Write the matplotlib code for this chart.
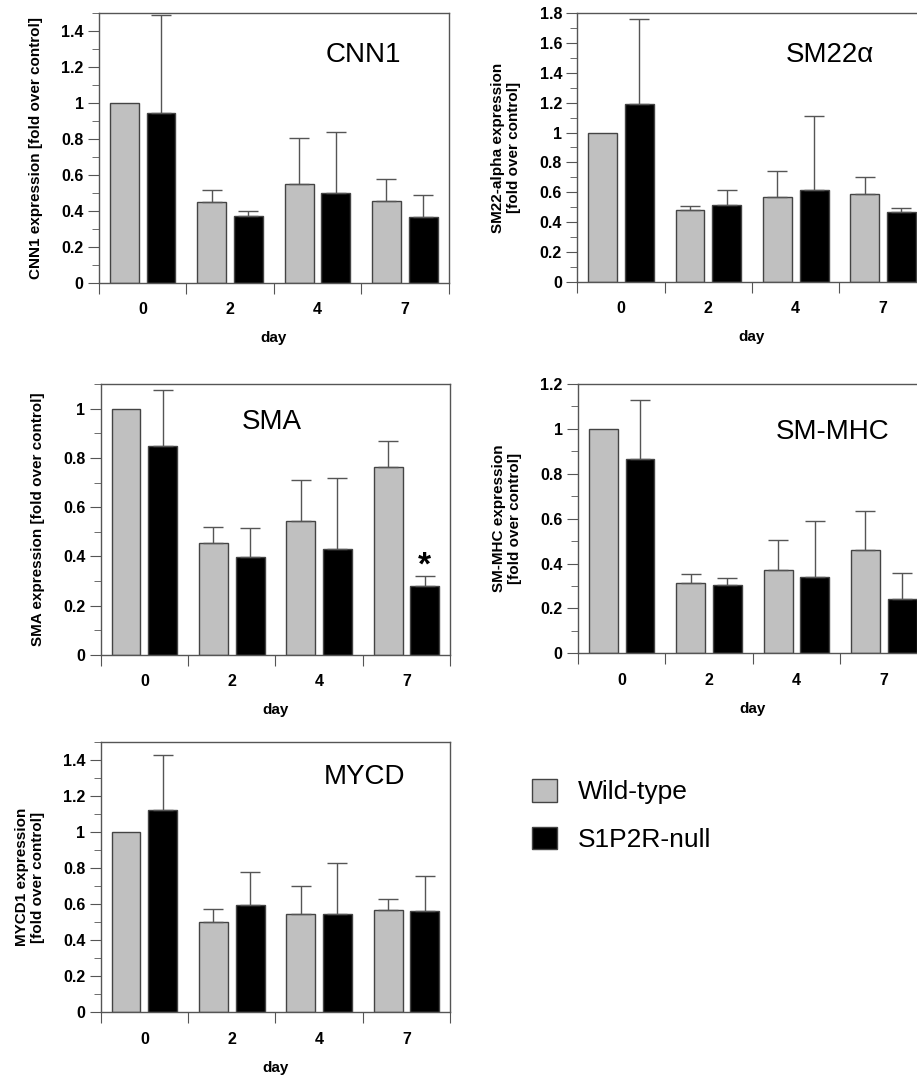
import matplotlib
matplotlib.use("Agg")
import matplotlib.pyplot as plt
import numpy as np

plt.rcParams['font.family'] = ['Liberation Sans', 'DejaVu Sans']

#data (upper error only)
days = ['0', '2', '4', '7']

cnn1_wt = [1.0, 0.45, 0.552, 0.455]
cnn1_wt_err = [0, 0.065, 0.255, 0.123]
cnn1_ko = [0.944, 0.374, 0.498, 0.368]
cnn1_ko_err = [0.543, 0.027, 0.34, 0.121]

sm22_wt = [1.0, 0.481, 0.566, 0.588]
sm22_wt_err = [0, 0.027, 0.176, 0.114]
sm22_ko = [1.19, 0.514, 0.617, 0.47]
sm22_ko_err = [0.572, 0.101, 0.494, 0.027]

sma_wt = [1.0, 0.455, 0.544, 0.762]
sma_wt_err = [0, 0.063, 0.168, 0.105]
sma_ko = [0.848, 0.396, 0.429, 0.279]
sma_ko_err = [0.229, 0.118, 0.288, 0.043]

smmhc_wt = [1.0, 0.313, 0.37, 0.46]
smmhc_wt_err = [0, 0.042, 0.136, 0.174]
smmhc_ko = [0.865, 0.304, 0.341, 0.24]
smmhc_ko_err = [0.263, 0.033, 0.249, 0.119]

mycd_wt = [1.0, 0.501, 0.545, 0.569]
mycd_wt_err = [0, 0.074, 0.157, 0.059]
mycd_ko = [1.124, 0.595, 0.547, 0.562]
mycd_ko_err = [0.303, 0.181, 0.283, 0.196]

W, H = 917, 1081
fig = plt.figure(figsize=(W / 100, H / 100), dpi=100)

edge = '#555555'
gray = '#c0c0c0'


def make_panel(left, top, bottom, ymax, wt, wt_err, ko, ko_err, title, title_xy, ylabel):
    width = 349.5
    ax = fig.add_axes([left / W, 1 - bottom / H, width / W, (bottom - top) / H])
    centers = np.arange(len(days)) + 0.5
    b1 = ax.bar(centers - 0.21, wt, 0.33, color=gray, edgecolor='#444444', linewidth=1, zorder=2)
    b2 = ax.bar(centers + 0.21, ko, 0.33, color='black', edgecolor='#444444', linewidth=1, zorder=2)
    for xs, vals, errs in [(centers - 0.21, wt, wt_err), (centers + 0.21, ko, ko_err)]:
        vals = np.array(vals)
        errs = np.array(errs)
        m = errs > 0
        ax.errorbar(xs[m], vals[m], yerr=[np.zeros(m.sum()), errs[m]], fmt='none',
                    ecolor=edge, elinewidth=1, capsize=7, capthick=1, zorder=3)
    ax.set_xlim(0, 4)
    ax.set_ylim(0, ymax)
    ax.set_xticks([0, 1, 2, 3, 4])
    ax.set_xticklabels([])
    ax.set_xticks(centers, minor=True)
    ax.set_xticklabels(days, minor=True, fontweight='bold', fontsize=11.5)
    ax.tick_params(axis='x', which='major', length=8, color=edge, direction='out')
    ax.tick_params(axis='x', which='minor', length=0, pad=14)
    ax.set_yticks(np.arange(0, ymax + 0.001, 0.2))
    ax.set_yticks(np.arange(0, ymax + 0.001, 0.1), minor=True)
    ax.set_yticklabels(['0' if v == 0 else ('1' if abs(v - 1) < 1e-6 else f'{v:.1f}')
                        for v in np.arange(0, ymax + 0.001, 0.2)],
                       fontweight='bold', fontsize=11.5)
    ax.tick_params(axis='y', which='major', length=8, color=edge, pad=3)
    ax.tick_params(axis='y', which='minor', length=5, color=edge)
    for s in ax.spines.values():
        s.set_color(edge)
        s.set_linewidth(1)
    ax.set_xlabel('day', fontweight='bold', fontsize=11, labelpad=10)
    ax.set_ylabel(ylabel, fontweight='bold', fontsize=11, labelpad=13)
    fig.text(title_xy[0] / W, 1 - title_xy[1] / H, title, fontsize=20, ha='center', va='center')
    return ax, b1, b2


make_panel(99, 13, 283, 1.5, cnn1_wt, cnn1_wt_err, cnn1_ko, cnn1_ko_err,
           'CNN1', (363, 55), 'CNN1 expression [fold over control]')
make_panel(577.3, 13, 282, 1.8, sm22_wt, sm22_wt_err, sm22_ko, sm22_ko_err,
           'SM22α', (830, 55), 'SM22-alpha expression\n[fold over control]')
ax3, _, _ = make_panel(100.7, 384, 655, 1.1, sma_wt, sma_wt_err, sma_ko, sma_ko_err,
                       'SMA', (272, 422), 'SMA expression [fold over control]')
ax3.text(3.71, 0.36, '*', fontsize=24, fontweight='bold', ha='center', va='center')
make_panel(578, 384, 653.3, 1.2, smmhc_wt, smmhc_wt_err, smmhc_ko, smmhc_ko_err,
           'SM-MHC', (833, 432), 'SM-MHC expression\n[fold over control]')
ax5, b1, b2 = make_panel(100.7, 741.7, 1012.3, 1.5, mycd_wt, mycd_wt_err, mycd_ko, mycd_ko_err,
                         'MYCD', (365, 777), 'MYCD1 expression\n[fold over control]')

fig.legend([b1, b2], ['Wild-type', 'S1P2R-null'], loc='upper left',
           bbox_to_anchor=(508 / W, 1 - 755 / H), frameon=False, fontsize=19,
           handlelength=0.95, handleheight=0.95, handletextpad=0.8, labelspacing=0.85)

plt.savefig('out.png', dpi=100)
